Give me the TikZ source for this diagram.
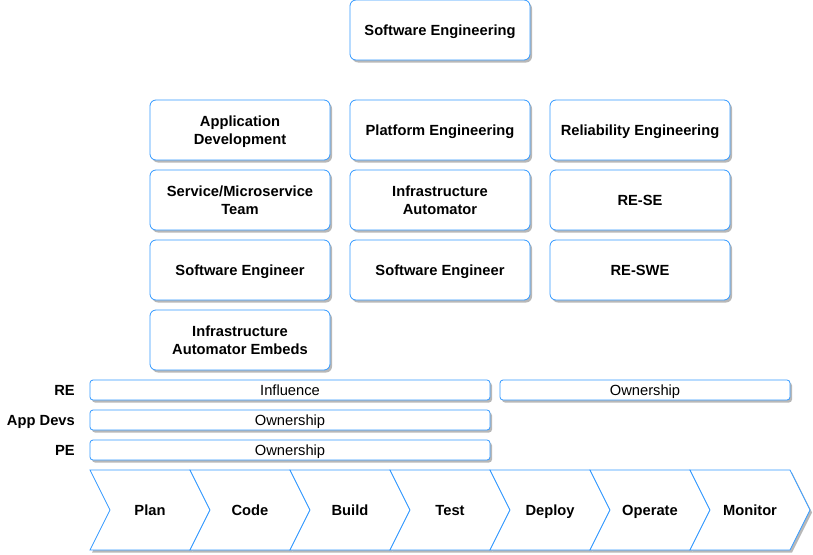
\documentclass[tikz,border=0pt]{standalone}
\usepackage{fontspec}
\setmainfont{Liberation Sans}
\usetikzlibrary{shadows}
\definecolor{edge}{HTML}{3399FF}
\begin{document}
\begin{tikzpicture}[x=1pt,y=-1pt,
  shad/.style={drop shadow={shadow xshift=2pt,shadow yshift=-2.5pt,fill=black!28,opacity=1}},
  box/.style={draw=edge, line width=0.8pt, fill=white, rounded corners=6pt, shad,
    align=center, font=\fontsize{14.7}{18}\selectfont\bfseries, text depth=-2pt,
    minimum width=180pt, minimum height=60pt, inner sep=0pt},
  bar/.style={draw=edge, line width=0.8pt, fill=white, rounded corners=3pt, shad,
    font=\fontsize{14.7}{16}\selectfont, text depth=-1pt, minimum width=400pt, minimum height=20pt, inner sep=0pt},
  lab/.style={anchor=east, font=\fontsize{14.7}{16}\selectfont\bfseries, text depth=-1pt, inner sep=0pt},
  chev/.style={draw=edge, line width=0.8pt, fill=white},
  chevshad/.style={fill=black!28, draw=none},
  ctext/.style={font=\fontsize{14.7}{16}\selectfont\bfseries, text depth=-2pt, inner sep=0pt}]
\useasboundingbox (0,0) rectangle (813,554);
% top
\node[box] (se) at (440,30) {Software Engineering};
% columns
\node[box] (ad) at (240,130) {Application\\Development};
\node[box] (sm) at (240,200) {Service/Microservice\\Team};
\node[box] (sw1) at (240,270) {Software Engineer};
\node[box] (iae) at (240,340) {Infrastructure\\Automator Embeds};
\node[box] (pe) at (440,130) {Platform Engineering};
\node[box] (ia) at (440,200) {Infrastructure\\Automator};
\node[box] (sw2) at (440,270) {Software Engineer};
\node[box] (re) at (640,130) {Reliability Engineering};
\node[box] (rese) at (640,200) {RE-SE};
\node[box] (reswe) at (640,270) {RE-SWE};
% bars
\node[lab] (lre) at (75,390) {RE};
\node[lab] (lad) at (75,420) {App Devs};
\node[lab] (lpe) at (75,450) {PE};
\node[bar] (infl) at (290,390) {Influence};
\node[bar, minimum width=290pt] (own1) at (645,390) {Ownership};
\node[bar] (own2) at (290,420) {Ownership};
\node[bar] (own3) at (290,450) {Ownership};
% chevrons
\foreach \i in {0,...,6}{
  \pgfmathsetmacro{\xa}{90+100*\i}
  \fill[chevshad] (\xa+2,472.5) -- (\xa+102,472.5) -- (\xa+122,512.5) -- (\xa+102,552.5) -- (\xa+2,552.5) -- (\xa+22,512.5) -- cycle;
}
\foreach \n/\t [count=\i from 0] in {plan/Plan,code/Code,build/Build,test/Test,deploy/Deploy,operate/Operate,monitor/Monitor}{
  \pgfmathsetmacro{\xa}{90+100*\i}
  \draw[chev] (\xa,470) -- (\xa+100,470) -- (\xa+120,510) -- (\xa+100,550) -- (\xa,550) -- (\xa+20,510) -- cycle;
  \node[ctext] (\n) at (\xa+60,510) {\t};
}
\end{tikzpicture}
\end{document}
